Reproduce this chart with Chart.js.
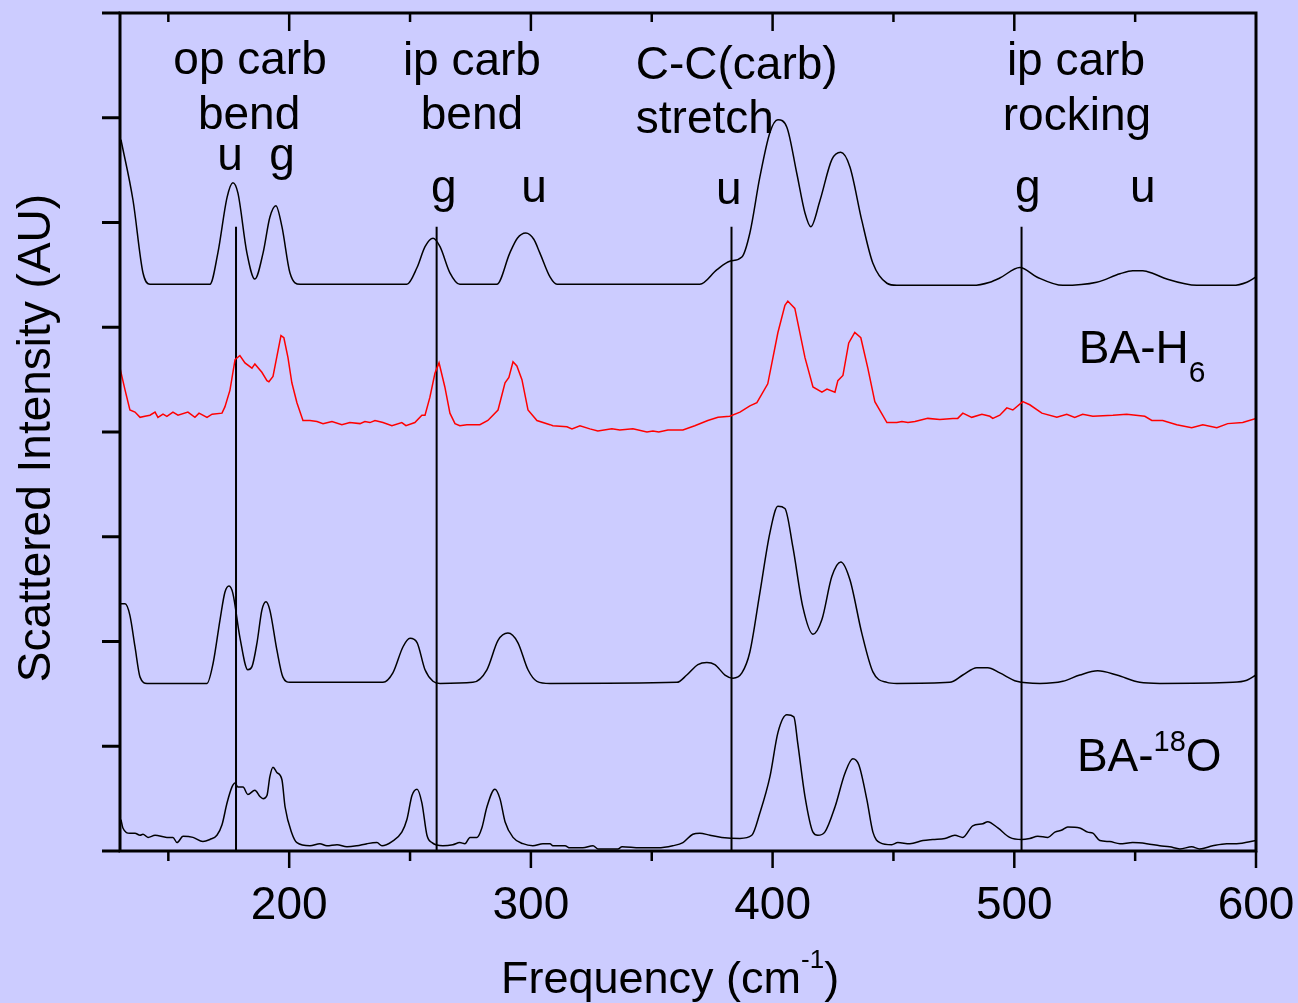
<!DOCTYPE html>
<html>
<head>
<meta charset="utf-8">
<title>Raman spectra</title>
<script src="https://cdn.jsdelivr.net/npm/chart.js@4.4.1/dist/chart.umd.min.js"></script>
<style>
  html, body { margin: 0; padding: 0; background: #ccccff; }
  canvas { display: block; }
</style>
</head>
<body>
<canvas id="spectra" width="1298" height="1003"></canvas>
<script>
// Frequency axis ticks (cm-1)
const majorTicks = [200, 300, 400, 500, 600];
const minorTicks = [150, 250, 350, 450, 550];
const yTicks = [0, 1, 2, 3, 4, 5, 6, 7, 8];

// Mode assignments: vertical markers
const markerFreqs = [178, 261, 383, 503];
const markerTop = 5.96;

// Spectra as [frequency, offset intensity]
const specBA = [
  [130.4, 6.79], [135.4, 6.21], [139.5, 5.52], [142.4, 5.41], [167.2, 5.41], [170.5, 5.71],
  [174.3, 6.24], [176.7, 6.38], [178.8, 6.28], [182.5, 5.71], [185.8, 5.46], [189.2, 5.71],
  [192.0, 6.05], [194.5, 6.16], [197.0, 5.96], [200.3, 5.52], [204.5, 5.41], [248.7, 5.41],
  [252.9, 5.57], [256.2, 5.77], [259.5, 5.85], [262.4, 5.77], [266.5, 5.52], [270.6, 5.41],
  [285.9, 5.41], [291.3, 5.71], [294.4, 5.85], [297.9, 5.90], [301.2, 5.84], [303.7, 5.71],
  [307.9, 5.48], [310.8, 5.41], [369.9, 5.41], [377.0, 5.55], [382.3, 5.63], [387.3, 5.67],
  [390.6, 5.90], [394.7, 6.43], [398.9, 6.86], [402.2, 6.98], [405.9, 6.91], [410.0, 6.47],
  [413.4, 6.09], [415.8, 5.96], [419.6, 6.21], [424.5, 6.60], [428.2, 6.67], [432.0, 6.53],
  [436.9, 6.02], [441.5, 5.61], [447.3, 5.42], [451.4, 5.40], [482.8, 5.40], [489.9, 5.43],
  [494.0, 5.47], [502.3, 5.57], [509.3, 5.48], [520.1, 5.40], [534.1, 5.43], [543.7, 5.51],
  [549.0, 5.54], [553.2, 5.54], [557.7, 5.51], [563.1, 5.46], [575.5, 5.40], [590.4, 5.40],
  [596.2, 5.43], [600.0, 5.48]
];

const specH6 = [
  [130.0, 4.61], [132.1, 4.40], [134.1, 4.21], [136.2, 4.19], [138.3, 4.14], [140.3, 4.15],
  [142.4, 4.16], [144.5, 4.19], [145.7, 4.14], [147.8, 4.17], [149.4, 4.15], [151.9, 4.19],
  [154.0, 4.16], [158.1, 4.19], [161.0, 4.14], [162.7, 4.18], [166.0, 4.14], [168.1, 4.17],
  [172.2, 4.18], [173.4, 4.24], [175.5, 4.40], [177.6, 4.69], [179.6, 4.73], [181.7, 4.66],
  [184.6, 4.61], [185.8, 4.65], [188.7, 4.57], [190.8, 4.49], [191.6, 4.48], [193.3, 4.53],
  [194.9, 4.72], [196.6, 4.92], [197.8, 4.90], [199.5, 4.71], [201.1, 4.47], [203.2, 4.28],
  [205.7, 4.11], [208.6, 4.11], [211.5, 4.10], [214.0, 4.08], [217.7, 4.10], [221.8, 4.07],
  [225.1, 4.09], [229.3, 4.08], [231.3, 4.10], [233.4, 4.09], [235.5, 4.11], [238.8, 4.09],
  [242.5, 4.06], [246.6, 4.09], [248.3, 4.06], [252.0, 4.09], [254.9, 4.16], [256.2, 4.16],
  [258.2, 4.33], [260.3, 4.56], [262.0, 4.66], [264.4, 4.43], [266.5, 4.18], [268.6, 4.08],
  [270.6, 4.06], [273.5, 4.07], [278.9, 4.07], [282.2, 4.11], [286.4, 4.21], [289.3, 4.47],
  [290.9, 4.52], [292.6, 4.67], [294.2, 4.63], [296.3, 4.50], [298.8, 4.21], [302.5, 4.11],
  [307.9, 4.07], [309.1, 4.06], [314.9, 4.05], [317.0, 4.03], [320.3, 4.06], [324.4, 4.03],
  [327.7, 4.01], [333.5, 4.03], [336.8, 4.02], [342.2, 4.03], [348.0, 4.00], [350.5, 4.01],
  [352.9, 4.00], [356.7, 4.02], [362.9, 4.02], [367.8, 4.06], [373.2, 4.11], [377.4, 4.14],
  [382.3, 4.15], [386.5, 4.19], [390.6, 4.25], [393.5, 4.28], [398.0, 4.46], [402.2, 4.95],
  [405.1, 5.21], [406.3, 5.25], [409.2, 5.18], [413.4, 4.71], [416.7, 4.43], [420.4, 4.38],
  [422.5, 4.41], [425.8, 4.38], [427.0, 4.49], [429.1, 4.54], [431.5, 4.85], [434.0, 4.95],
  [436.5, 4.90], [439.4, 4.61], [442.3, 4.29], [447.3, 4.09], [451.4, 4.09], [453.5, 4.10],
  [456.0, 4.09], [458.9, 4.10], [464.2, 4.13], [469.2, 4.12], [474.6, 4.13], [476.6, 4.13],
  [478.7, 4.18], [482.4, 4.14], [486.6, 4.17], [489.9, 4.15], [491.1, 4.13], [494.0, 4.16],
  [496.9, 4.23], [499.4, 4.21], [503.5, 4.29], [506.4, 4.26], [511.4, 4.18], [517.6, 4.14],
  [521.7, 4.17], [525.0, 4.14], [528.3, 4.17], [532.5, 4.15], [540.8, 4.16], [546.5, 4.17],
  [554.0, 4.15], [556.9, 4.11], [561.4, 4.11], [567.2, 4.07], [573.4, 4.04], [578.0, 4.07],
  [583.8, 4.04], [588.3, 4.08], [594.5, 4.09], [600.0, 4.13]
];

const specBA2 = [
  [130.4, 2.36], [132.1, 2.36], [134.1, 2.25], [136.2, 1.95], [138.3, 1.66], [141.2, 1.60],
  [166.0, 1.60], [168.5, 1.79], [171.4, 2.21], [173.4, 2.47], [175.1, 2.53], [176.7, 2.46],
  [179.6, 2.04], [182.9, 1.73], [184.6, 1.76], [186.7, 1.99], [188.7, 2.30], [190.4, 2.38],
  [192.0, 2.30], [194.9, 1.92], [197.4, 1.66], [200.3, 1.61], [238.8, 1.61], [242.9, 1.70],
  [247.1, 1.95], [250.0, 2.03], [252.9, 1.99], [256.2, 1.73], [259.5, 1.62], [262.4, 1.60],
  [276.0, 1.61], [281.8, 1.73], [286.4, 2.01], [290.5, 2.08], [294.6, 1.99], [298.8, 1.73],
  [302.5, 1.62], [307.9, 1.60], [360.4, 1.61], [364.5, 1.68], [369.1, 1.78], [372.8, 1.80],
  [376.1, 1.78], [380.3, 1.68], [383.6, 1.65], [387.3, 1.70], [390.6, 1.90], [394.7, 2.46],
  [398.9, 3.04], [402.2, 3.29], [405.1, 3.27], [408.4, 2.90], [412.5, 2.33], [416.7, 2.07],
  [420.4, 2.21], [424.5, 2.62], [428.2, 2.76], [432.0, 2.59], [436.9, 2.08], [441.5, 1.71],
  [447.3, 1.61], [451.4, 1.60], [473.3, 1.61], [478.7, 1.68], [484.5, 1.75], [489.0, 1.75],
  [494.0, 1.70], [501.0, 1.62], [510.6, 1.60], [520.1, 1.62], [527.1, 1.68], [534.5, 1.72],
  [542.4, 1.68], [551.9, 1.61], [560.2, 1.60], [590.4, 1.61], [596.2, 1.63], [600.0, 1.68]
];

const spec18O = [
  [130.4, 0.30], [131.2, 0.22], [134.1, 0.17], [136.2, 0.17], [138.3, 0.15], [139.5, 0.16],
  [141.6, 0.13], [144.5, 0.15], [149.4, 0.13], [151.9, 0.13], [153.6, 0.08], [156.1, 0.14],
  [160.2, 0.13], [164.3, 0.09], [167.2, 0.11], [170.1, 0.15], [172.2, 0.25], [174.3, 0.46],
  [176.3, 0.61], [177.6, 0.65], [178.8, 0.61], [180.9, 0.61], [182.9, 0.54], [185.8, 0.58],
  [187.9, 0.52], [189.2, 0.50], [190.8, 0.53], [192.0, 0.71], [193.3, 0.80], [194.9, 0.75],
  [197.0, 0.68], [198.3, 0.42], [201.1, 0.17], [203.2, 0.08], [208.6, 0.05], [212.7, 0.07],
  [215.6, 0.05], [219.8, 0.06], [223.9, 0.04], [228.0, 0.05], [232.2, 0.07], [236.3, 0.08],
  [238.4, 0.05], [242.5, 0.09], [246.6, 0.18], [248.7, 0.30], [250.8, 0.53], [252.9, 0.59],
  [254.9, 0.46], [257.0, 0.15], [259.1, 0.08], [263.6, 0.05], [267.7, 0.06], [270.6, 0.08],
  [272.7, 0.07], [274.8, 0.13], [277.7, 0.13], [279.7, 0.22], [281.8, 0.42], [285.1, 0.59],
  [287.2, 0.50], [289.3, 0.28], [292.6, 0.13], [296.7, 0.07], [300.8, 0.05], [305.0, 0.07],
  [307.9, 0.07], [309.1, 0.05], [314.1, 0.05], [316.1, 0.03], [321.5, 0.03], [325.7, 0.05],
  [327.7, 0.02], [336.0, 0.02], [337.7, 0.04], [345.1, 0.03], [352.5, 0.03], [358.7, 0.05],
  [362.9, 0.08], [367.0, 0.16], [369.9, 0.17], [374.1, 0.15], [379.0, 0.13], [386.5, 0.12],
  [391.4, 0.15], [394.7, 0.36], [398.9, 0.71], [402.2, 1.13], [405.9, 1.30], [408.8, 1.28],
  [410.4, 1.03], [413.4, 0.52], [416.7, 0.18], [418.7, 0.15], [421.6, 0.18], [425.8, 0.42],
  [429.9, 0.74], [433.2, 0.88], [435.7, 0.82], [439.0, 0.49], [441.5, 0.18], [444.4, 0.08],
  [449.3, 0.06], [451.8, 0.08], [456.8, 0.07], [462.2, 0.10], [466.3, 0.11], [471.3, 0.12],
  [475.4, 0.15], [478.7, 0.13], [482.8, 0.24], [487.0, 0.26], [489.0, 0.28], [493.2, 0.22],
  [498.1, 0.13], [503.1, 0.11], [506.4, 0.12], [509.7, 0.14], [513.9, 0.13], [516.8, 0.18],
  [519.7, 0.20], [522.1, 0.23], [527.1, 0.22], [530.4, 0.18], [532.5, 0.17], [535.4, 0.10],
  [539.5, 0.09], [543.7, 0.07], [549.0, 0.08], [554.8, 0.07], [560.2, 0.05], [564.3, 0.04],
  [568.5, 0.02], [573.4, 0.04], [576.7, 0.02], [582.1, 0.05], [587.9, 0.07], [592.0, 0.07],
  [600.0, 0.10]
];

const FONT = '"Liberation Sans", Arial, sans-serif';

const toXY = arr => arr.map(p => ({ x: p[0], y: p[1] }));

function spectrum(arr, color, smooth) {
    return {
        data: toXY(arr),
        borderColor: color,
        borderWidth: 1.5,
        pointRadius: 0,
        fill: false,
        cubicInterpolationMode: smooth ? 'monotone' : 'default',
        tension: 0
    };
}

const markerSets = markerFreqs.map(f => ({
    data: [{ x: f, y: 0 }, { x: f, y: markerTop }],
    borderColor: '#000',
    borderWidth: 2,
    pointRadius: 0,
    fill: false
}));

// Band labels, placed in data units
const bandLabels = [
    { x: 183.8, y: 7.42, text: 'op carb' },
    { x: 183.4, y: 6.89, text: 'bend' },
    { x: 175.5, y: 6.50, text: 'u' },
    { x: 197.0, y: 6.50, text: 'g' },
    { x: 275.6, y: 7.41, text: 'ip carb' },
    { x: 275.6, y: 6.89, text: 'bend' },
    { x: 264.0, y: 6.20, text: 'g' },
    { x: 301.3, y: 6.20, text: 'u' },
    { x: 343.4, y: 7.37, text: 'C-C(carb)', align: 'left' },
    { x: 343.4, y: 6.85, text: 'stretch', align: 'left' },
    { x: 381.9, y: 6.18, text: 'u' },
    { x: 525.5, y: 7.41, text: 'ip carb' },
    { x: 525.9, y: 6.88, text: 'rocking' },
    { x: 505.6, y: 6.20, text: 'g' },
    { x: 553.2, y: 6.20, text: 'u' }
];

function line(ctx, x1, y1, x2, y2) {
    ctx.beginPath();
    ctx.moveTo(x1, y1);
    ctx.lineTo(x2, y2);
    ctx.stroke();
}

// Draws pieces of text in sequence; each piece may be raised or lowered
function drawRuns(ctx, x, y, runs) {
    let cx = x;
    runs.forEach(r => {
        ctx.font = r.size + 'px ' + FONT;
        ctx.fillText(r.text, cx, y + (r.dy || 0));
        cx += ctx.measureText(r.text).width;
    });
}

const framePlugin = {
    id: 'frame',
    afterDatasetsDraw(chart) {
        const { ctx, chartArea: a, scales: { x, y } } = chart;
        ctx.save();
        ctx.strokeStyle = '#000';
        ctx.lineCap = 'butt';

        ctx.lineWidth = 3;
        ctx.strokeRect(a.left, a.top, a.right - a.left, a.bottom - a.top);

        // left ticks point outward
        yTicks.forEach(v => {
            const py = y.getPixelForValue(v);
            line(ctx, a.left - 18, py, a.left, py);
        });

        // bottom ticks outward, top ticks inward
        ctx.lineWidth = 2.5;
        majorTicks.forEach(v => {
            const px = x.getPixelForValue(v);
            line(ctx, px, a.bottom, px, a.bottom + 17);
            if (v < 600) line(ctx, px, a.top, px, a.top + 18);
        });
        minorTicks.forEach(v => {
            const px = x.getPixelForValue(v);
            line(ctx, px, a.bottom, px, a.bottom + 10);
            line(ctx, px, a.top, px, a.top + 9);
        });
        ctx.restore();
    },
    afterDraw(chart) {
        const { ctx, scales: { x, y } } = chart;
        ctx.save();
        ctx.fillStyle = '#000';
        ctx.textBaseline = 'alphabetic';
        ctx.font = '46px ' + FONT;

        bandLabels.forEach(l => {
            ctx.textAlign = l.align || 'center';
            ctx.fillText(l.text, x.getPixelForValue(l.x), y.getPixelForValue(l.y));
        });

        // sample names
        ctx.textAlign = 'left';
        drawRuns(ctx, x.getPixelForValue(526.7), y.getPixelForValue(4.66), [
            { text: 'BA-H', size: 46 },
            { text: '6', size: 30, dy: 19 }
        ]);
        drawRuns(ctx, x.getPixelForValue(525.9), y.getPixelForValue(0.76), [
            { text: 'BA-', size: 46 },
            { text: '18', size: 29, dy: -20 },
            { text: 'O', size: 46 }
        ]);

        // axis titles
        drawRuns(ctx, 501, 993, [
            { text: 'Frequency (cm', size: 45 },
            { text: '-1', size: 26, dy: -25 },
            { text: ')', size: 45 }
        ]);

        ctx.translate(50, 438);
        ctx.rotate(-Math.PI / 2);
        ctx.textAlign = 'center';
        ctx.font = '46px ' + FONT;
        ctx.fillText('Scattered Intensity (AU)', 0, 0);
        ctx.restore();
    }
};

new Chart(document.getElementById('spectra'), {
    type: 'line',
    data: {
        datasets: [
            spectrum(specBA, '#000', true),
            spectrum(specH6, '#ff0000', false),
            spectrum(specBA2, '#000', true),
            spectrum(spec18O, '#000', true)
        ].concat(markerSets)
    },
    options: {
        responsive: false,
        animation: false,
        parsing: false,
        normalized: true,
        layout: { padding: { top: 13, right: 42, left: 0, bottom: 0 } },
        plugins: {
            legend: { display: false },
            tooltip: { enabled: false }
        },
        scales: {
            x: {
                type: 'linear',
                min: 130,
                max: 600,
                afterBuildTicks: s => {
                    s.ticks = minorTicks.concat(majorTicks).sort((a, b) => a - b).map(v => ({ value: v }));
                },
                afterFit: s => {
                    s.height = 152;
                    s.paddingLeft = 0;
                    s.paddingRight = 0;
                },
                grid: { display: false },
                border: { display: false },
                ticks: {
                    autoSkip: false,
                    maxRotation: 0,
                    padding: 20,
                    color: '#000',
                    font: { family: FONT, size: 46 },
                    callback: v => (v % 100 === 0 ? String(v) : '')
                }
            },
            y: {
                type: 'linear',
                min: 0,
                max: 8,
                afterFit: s => { s.width = 120; },
                grid: { display: false },
                border: { display: false },
                ticks: { display: false }
            }
        }
    },
    plugins: [framePlugin]
});
</script>
</body>
</html>
